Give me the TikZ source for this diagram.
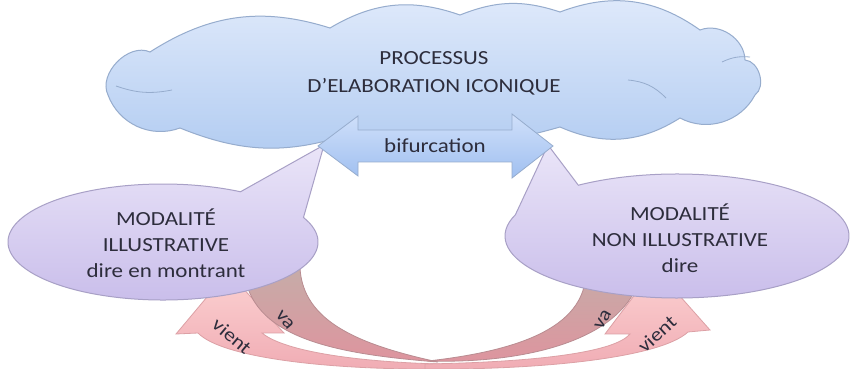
\documentclass[tikz,border=0pt]{standalone}
\usepackage{fontspec}
\setmainfont{Carlito}
\newfontfamily\wfont[FakeStretch=1.15]{Carlito}
\usetikzlibrary{calc}
\definecolor{txtc}{RGB}{45,45,60}
\definecolor{cltop}{RGB}{224,234,251}
\definecolor{clbot}{RGB}{178,204,241}
\definecolor{cledge}{RGB}{150,172,205}
\definecolor{eltop}{RGB}{234,229,248}
\definecolor{elbot}{RGB}{200,188,234}
\definecolor{eledge}{RGB}{168,160,198}
\definecolor{bftop}{RGB}{208,224,250}
\definecolor{bfbot}{RGB}{160,192,240}
\definecolor{vatop}{RGB}{198,172,168}
\definecolor{vabot}{RGB}{222,148,158}
\definecolor{vaedge}{RGB}{185,140,145}
\definecolor{vitop}{RGB}{252,210,210}
\definecolor{vibot}{RGB}{240,172,180}
\definecolor{viedge}{RGB}{220,160,165}
\tikzset{
  txt/.style={font=\wfont\fontsize{10}{13}\selectfont, text=txtc, align=center, inner sep=0pt},
  lbl/.style={font=\wfont\fontsize{9.5}{11}\selectfont, text=txtc, inner sep=0pt},
  cloudst/.style={top color=cltop, bottom color=clbot, draw=cledge, line width=0.5pt},
  crease/.style={draw=cledge, line width=0.4pt},
  callout/.style={top color=eltop, bottom color=elbot, draw=eledge, line width=0.5pt},
  bifarrow/.style={top color=bftop, bottom color=bfbot, draw=cledge, line width=0.4pt},
  vaband/.style={top color=vatop, bottom color=vabot, draw=vaedge, line width=0.4pt},
  vientband/.style={top color=vitop, bottom color=vibot, draw=viedge, line width=0.4pt}
}
\begin{document}
\begin{tikzpicture}[x=0.5pt,y=-0.5pt]
\useasboundingbox (0,0) rectangle (853,369);
\fill[white] (0,0) rectangle (853,369);

% centres and tips
\coordinate (LC) at (163,242);
\coordinate (LT) at (324,145);
\coordinate (RC) at (677,236);
\coordinate (RT) at (548,145);

% ---- curved arrows (behind the ellipses)
% left "vient"
\draw[vientband] (228,272) -- (176,334) -- (198,333)
  .. controls (222,358) and (330,370) .. (440,369)
  -- (440,364)
  .. controls (360,362) and (285,352) .. (262,333)
  -- (284,333) -- cycle;
% right "vient"
\draw[vientband] (655,268) -- (710,330) -- (688,332)
  .. controls (660,358) and (540,370) .. (425,369)
  -- (425,364)
  .. controls (540,362) and (615,352) .. (630,334)
  -- (605,334) -- cycle;
% left "va"
\draw[vaband] (244,268)
  .. controls (248,338) and (335,354) .. (438,362)
  .. controls (360,345) and (303,322) .. (300,268) -- cycle;
% right "va"
\draw[vaband] (586,268)
  .. controls (588,325) and (525,350) .. (428,361)
  .. controls (530,364) and (632,338) .. (642,268) -- cycle;

% ---- callout ellipses
\path[callout] ($(LC)+(-25:155 and 58)$)
  arc[start angle=-25, end angle=300, x radius=155, y radius=58]
  -- (LT) -- cycle;
\path[callout] ($(RC)+(235:172 and 62)$)
  arc[start angle=235, end angle=560, x radius=172, y radius=62]
  -- (RT) -- cycle;

% ---- cloud
\draw[cloudst] (108,95) to[bend left=70] (150,52) to[bend left=25] (330,28)
  to[bend left=25] (460,15) to[bend left=20] (560,12) to[bend left=28] (700,30)
  to[bend left=55] (745,60) to[bend left=70] (755,95) to[bend left=45] (680,118)
  to[bend left=28] (560,127) to[bend left=14] (350,134) to[bend left=20] (180,128)
  to[bend left=45] (108,95) -- cycle;
\draw[crease] (116,86) to[bend right=15] (172,90);
\draw[crease] (722,62) to[bend left=15] (750,57);
\draw[crease] (628,80) to[bend left=20] (666,98);

% ---- bifurcation arrow
\draw[bifarrow] (318,146) -- (358,116) -- (358,130) -- (512,130) -- (512,114)
  -- (553,146) -- (512,178) -- (512,162) -- (358,162) -- (358,176) -- cycle;

% ---- texts
\node[txt, font=\wfont\fontsize{10}{14}\selectfont] (proc) at (434,73) {PROCESSUS\\D’ELABORATION ICONIQUE};
\node[txt] (bif) at (435,146) {bifurcation};
\node[txt] (mil) at (166,243)
  {MODALITÉ\\ILLUSTRATIVE\\dire en montrant};
\node[txt] (mnil) at (680,238)
  {MODALITÉ\\NON ILLUSTRATIVE\\dire};
\node[lbl, rotate=-50] (vaL) at (285,320) {va};
\node[lbl, rotate=-40] (vientL) at (232,336) {vient};
\node[lbl, rotate=60] (vaR) at (603,320) {va};
\node[lbl, rotate=42] (vientR) at (657,334) {vient};
\end{tikzpicture}
\end{document}
